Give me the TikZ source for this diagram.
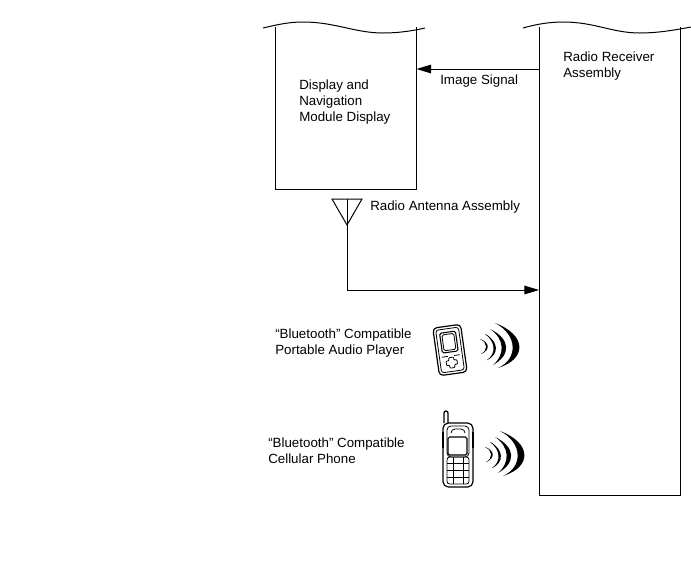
\documentclass[tikz,border=0pt]{standalone}
\usepackage{fontspec}
\setmainfont{Liberation Sans}
\usetikzlibrary{positioning, arrows.meta, calc}

\begin{document}
\begin{tikzpicture}[
  x=0.75pt, y=-0.75pt,
  font=\fontsize{10}{12}\selectfont,
  assembly/.style={rectangle, minimum width=#1*0.75pt, anchor=north west, inner sep=0pt},
  legend/.style={align=left, anchor=west, inner sep=0pt},
  wire/.style={line width=0.75pt},
  signal/.style={wire, -{Triangle[length=11pt, width=6.5pt]}},
  icon/.style={line width=0.6pt, rounded corners=1.2pt},
  pics/waves/.style={code={
    \fill (0,0) .. controls (8,4) and (8,11) .. (1,15) -- (1.4,15) .. controls (10,11) and (10,4) .. (0.4,0) -- cycle;
    \fill (5,-5) .. controls (16,3) and (16,15) .. (7,21) -- (7.5,21) .. controls (19,15) and (19,3) .. (5.5,-5) -- cycle;
    \fill (10,-10) .. controls (25,0) and (25,16) .. (13,26) .. controls (31,16) and (31,0) .. (10,-10) -- cycle;
    \fill (15,-16) .. controls (38,-4) and (38,20) .. (18,29) .. controls (47,20) and (47,-4) .. (15,-16) -- cycle;
  }}
]
\useasboundingbox (0,0) rectangle (691,562);
\node[assembly=141, minimum height=162*0.75pt] (display) at (275,27) {};
\node[assembly=141, minimum height=468*0.75pt] (radio) at (539,27) {};
% torn upper edges of both assemblies
\draw[wire] (263,28) .. controls (280,24) and (290,22) .. (303,22) .. controls (335,22) and (355,33) .. (383,33) .. controls (398,33) and (412,31) .. (425,28);
\draw[wire] (523,28) .. controls (537,24) and (550,22) .. (563,22) .. controls (595,22) and (612,33) .. (640,33) .. controls (655,33) and (670,31) .. (691,27);
\draw[wire] (display.north west) -- (display.south west) -- (display.south east) -- (display.north east);
\draw[wire] (radio.north west) -- (radio.south west) -- (radio.south east) -- (radio.north east);

\coordinate (imagey) at (0,69);
\draw[signal] (radio.west |- imagey) -- (display.east |- imagey);

% antenna and its feed
\coordinate (antl) at (332,199);
\coordinate (antr) at (362,199);
\coordinate (anttip) at (347,225);
\coordinate (feed) at (347,290);
\draw[wire] (antl) -- (antr) -- (anttip) -- cycle;
\draw[wire] (347,199) -- (anttip);
\draw[signal] (anttip) -- (feed) -- (radio.west |- feed);

\node[legend] (dispname) at (299,102) {Display and\\Navigation\\Module Display};
\node[legend] (radioname) at (563,66) {Radio Receiver\\Assembly};
\node[legend] (imagename) at (440,81) {Image Signal};
\node[legend] (antname) at (370,207) {Radio Antenna Assembly};
\node[legend] (playername) at (275,343) {“Bluetooth” Compatible\\Portable Audio Player};
\node[legend] (phonename) at (268,451) {“Bluetooth” Compatible\\Cellular Phone};

% portable audio player
\begin{scope}[shift={(450,350)}, rotate=8]
  \draw[icon, line width=0.9pt, rounded corners=3pt] (-14,-24) rectangle (14,24);
  \draw[icon, rounded corners=2pt] (-11.5,-21.5) rectangle (11.5,21.5);
  \draw[icon, line width=0.8pt] (-8,-18) rectangle (8,2);
  \draw[icon] (-6,-16) rectangle (6,0);
  \draw[icon] (-9,6) -- (-3,6) (3,6) -- (9,6);
  \draw[icon, rounded corners=0.6pt] (-2.5,7.5) -- (2.5,7.5) -- (2.5,10.5) -- (5.5,10.5) -- (5.5,15) -- (2.5,15) -- (2.5,18) -- (-2.5,18) -- (-2.5,15) -- (-5.5,15) -- (-5.5,10.5) -- (-2.5,10.5) -- cycle;
\end{scope}
\pic at (480,339) {waves};

% cellular phone
\begin{scope}[shift={(443,410)}]
  \draw[icon, rounded corners=1.5pt, line width=0.9pt] (1,13) -- (1,1) -- (5,1) -- (5,13);
  \fill (-1,22) rectangle (0.6,38);
  \fill (29.4,22) rectangle (31,38);
  \draw[icon, line width=0.9pt, rounded corners=4pt] (0,13) rectangle (30,77);
  \draw[icon, rounded corners=3pt] (4,16) rectangle (26,47);
  \draw[icon, line width=0.9pt] (5,27) rectangle (24,45);
  \draw[icon, rounded corners=3pt] (8,23) -- (8,19) -- (22,19) -- (22,23);
  \draw[icon, rounded corners=2pt] (4,47) rectangle (26,74);
  \foreach \rowy in {53,60,67} {\draw[line width=0.5pt] (4,\rowy) -- (26,\rowy);}
  \draw[line width=0.5pt] (10,47) -- (10,74) (20,47) -- (20,74);
\end{scope}
\pic at (485,447) {waves};
\end{tikzpicture}
\end{document}
